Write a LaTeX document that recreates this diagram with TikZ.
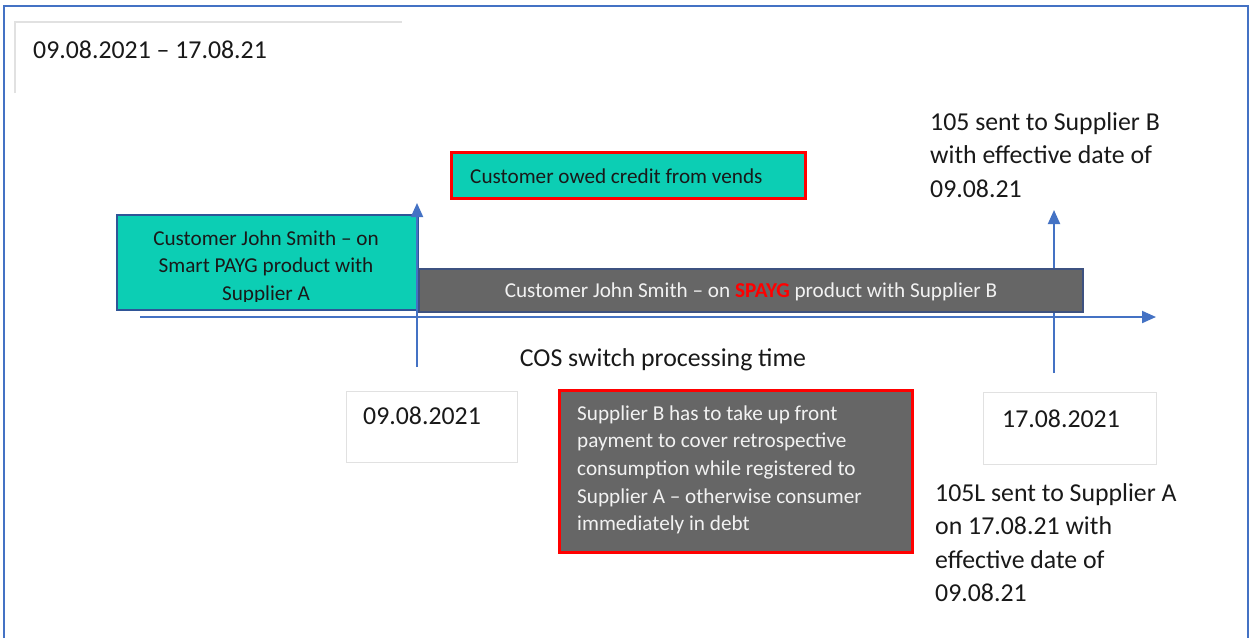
\documentclass[tikz,border=0pt]{standalone}
\usepackage{fontspec}
\setmainfont{Carlito}
\usetikzlibrary{arrows.meta}
\definecolor{frameblue}{RGB}{68,114,196}
\definecolor{tealfill}{RGB}{12,206,180}
\definecolor{darkgrayfill}{RGB}{102,102,102}
\definecolor{boxblue}{RGB}{47,85,151}
\definecolor{grayedge}{RGB}{62,82,128}
\definecolor{lightedge}{RGB}{225,225,225}
\definecolor{textdark}{RGB}{25,25,25}
\definecolor{textlight}{RGB}{242,242,242}
\begin{document}
\begin{tikzpicture}[x=1pt,y=-1pt,
  big/.style={font=\fontsize{25.8}{33.6}\selectfont, text=textdark, inner sep=0pt, align=left},
  small/.style={font=\fontsize{21.2}{27.7}\selectfont, inner sep=0pt},
  ax/.style={draw=frameblue, line width=2pt, -{Triangle[length=14pt,width=12pt]}},
  tealbox/.style={fill=tealfill, draw=boxblue, line width=2pt, inner sep=0pt, anchor=north west},
  graybox/.style={fill=darkgrayfill, draw=grayedge, line width=2pt, inner sep=0pt, anchor=north west},
  redteal/.style={fill=tealfill, draw=red, line width=2.5pt, inner sep=0pt, anchor=north west},
  redgray/.style={fill=darkgrayfill, draw=red, line width=2.5pt, inner sep=0pt, anchor=north west},
  datebox/.style={draw=lightedge, line width=1pt, inner sep=0pt, anchor=north west}
]
\useasboundingbox (0,0) rectangle (1252,638);
\fill[white] (0,0) rectangle (1252,638);
% outer frame
\coordinate (fbl) at (4,638);
\coordinate (ftl) at (4,6);
\coordinate (ftr) at (1248,6);
\coordinate (fbr) at (1248,638);
\draw[frameblue, line width=2pt] (fbl) -- (ftl) -- (ftr) -- (fbr);
% title box
\coordinate (tbl) at (15,93);
\coordinate (ttl) at (15,22);
\coordinate (ttr) at (402,22);
\draw[lightedge, line width=1.2pt] (tbl) -- (ttl) -- (ttr);
\node[big, anchor=base west] (title) at (33,58) {09.08.2021 – 17.08.21};

% right vertical arrow (behind grey box)
\coordinate (rb) at (1054,373);
\coordinate (rt) at (1054,210);
\draw[ax] (rb) -- (rt);

% supplier A box
\node[tealbox, minimum width=301pt, minimum height=95pt] (sa) at (116,214) {};
\begin{scope}
  \clip (116,214) rectangle (417,301);
  \node[small, text=textdark, align=center, anchor=base] (satext) at (266,300.4)
    {Customer John Smith – on\\Smart PAYG product with\\Supplier A};
\end{scope}

% supplier B bar
\node[graybox, minimum width=664pt, minimum height=43pt] (sb) at (418,268) {};
\node[small, text=textlight, anchor=base] (sbtext) at (751,297)
  {Customer John Smith – on \textcolor{red}{\textbf{SPAYG}} product with Supplier B};

% axis
\coordinate (axl) at (140,317);
\coordinate (axr) at (1156,317);
\draw[ax] (axl) -- (axr);

% left vertical arrow
\coordinate (lb) at (417,367);
\coordinate (lt) at (417,203);
\draw[ax] (lb) -- (lt);

% credit box
\node[redteal, minimum width=354pt, minimum height=46pt] (credit) at (450,151) {};
\node[small, text=textdark, anchor=base west] (credittext) at (470,183)
  {Customer owed credit from vends};

% 105 text
\node[big, anchor=base west] (t105) at (930,197.2)
  {105 sent to Supplier B\\with effective date of\\09.08.21};

% COS label
\node[big, anchor=base] (cos) at (663,366) {COS switch processing time};

% date boxes
\node[datebox, minimum width=171pt, minimum height=71pt] (d1) at (346,391) {};
\node[big, anchor=base west] (d1text) at (363,424) {09.08.2021};
\node[datebox, minimum width=173pt, minimum height=72pt] (d2) at (983,392) {};
\node[big, anchor=base west] (d2text) at (1002,427) {17.08.2021};

% supplier B front payment box
\node[redgray, minimum width=353pt, minimum height=162pt] (front) at (558,389) {};
\node[small, text=textlight, align=left, anchor=base west] (fronttext) at (577,530.8)
  {Supplier B has to take up front\\payment to cover retrospective\\consumption while registered to\\Supplier A – otherwise consumer\\immediately in debt};

% 105L text
\node[big, anchor=base west] (t105l) at (935,601.8)
  {105L sent to Supplier A\\on 17.08.21 with\\effective date of\\09.08.21};
\end{tikzpicture}
\end{document}
